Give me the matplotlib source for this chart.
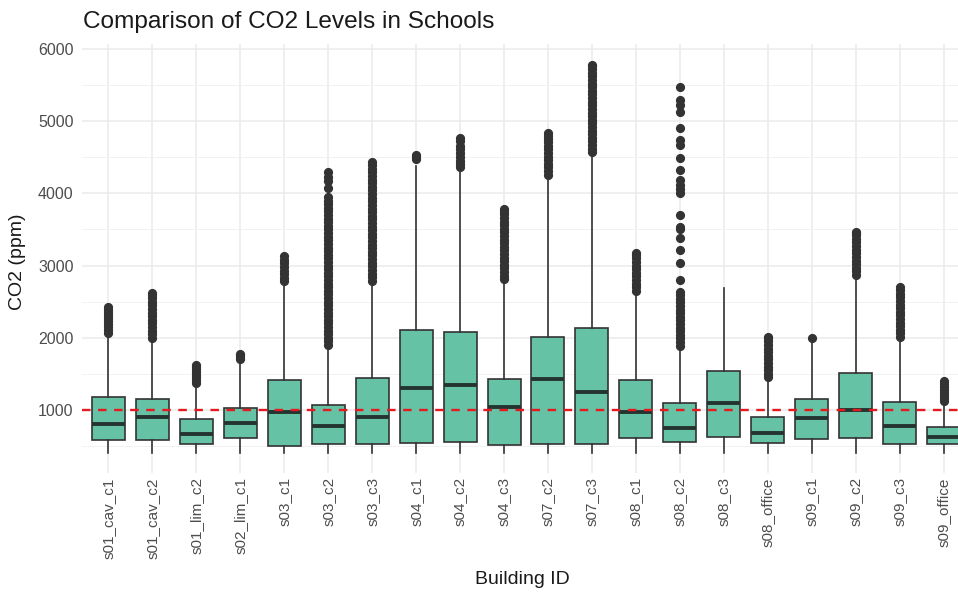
import matplotlib
matplotlib.use("Agg")
import matplotlib.pyplot as plt
from matplotlib.ticker import MultipleLocator

plt.rcParams['font.family'] = ['Liberation Sans', 'DejaVu Sans']

buildings = ["s01_cav_c1", "s01_cav_c2", "s01_lim_c2", "s02_lim_c1", "s03_c1", "s03_c2",
             "s03_c3", "s04_c1", "s04_c2", "s04_c3", "s07_c2", "s07_c3", "s08_c1", "s08_c2",
             "s08_c3", "s08_office", "s09_c1", "s09_c2", "s09_c3", "s09_office"]

q1 = [584, 580, 533, 617, 501, 525, 533, 539, 553, 520, 525, 525, 608, 561, 626, 539, 598, 608, 525, 525]
med = [806, 899, 672, 824, 976, 774, 907, 1305, 1350, 1037, 1429, 1249, 976, 755, 1097, 677, 889, 1000, 774, 626]
q3 = [1176, 1148, 875, 1032, 1411, 1069, 1439, 2112, 2076, 1434, 2016, 2140, 1420, 1093, 1544, 899, 1152, 1512, 1115, 760]
whis_lo = [400, 400, 400, 400, 400, 400, 400, 400, 400, 400, 400, 400, 400, 400, 400, 400, 400, 400, 400, 400]
whis_hi = [2040, 1980, 1340, 1640, 2760, 1870, 2770, 4380, 4300, 2790, 4230, 4540, 2620, 1880, 2690, 1420, 1940, 2840, 1990, 1100]

outliers = [
    [2070, 2110, 2150, 2190, 2230, 2270, 2310, 2350, 2390, 2430],
    [2000, 2050, 2100, 2150, 2200, 2250, 2300, 2350, 2400, 2450, 2500, 2550, 2590, 2620],
    [1375, 1410, 1450, 1490, 1530, 1570, 1600, 1625],
    [1700, 1730, 1755, 1775],
    [2780, 2830, 2880, 2930, 2980, 3030, 3080, 3130],
    [1900, 1950, 2000, 2050, 2100, 2150, 2200, 2250, 2300, 2350, 2400, 2450, 2500, 2550, 2600,
     2650, 2700, 2750, 2800, 2850, 2900, 2950, 3000, 3050, 3100, 3150, 3200, 3250, 3300, 3350,
     3400, 3450, 3500, 3550, 3600, 3650, 3700, 3750, 3800, 3850, 3900, 3950, 4080, 4170, 4230, 4300],
    [2790, 2840, 2890, 2940, 2990, 3040, 3090, 3140, 3190, 3240, 3290, 3340, 3390, 3440, 3490,
     3540, 3590, 3640, 3690, 3740, 3790, 3840, 3890, 3940, 3990, 4040, 4090, 4140, 4190, 4240,
     4290, 4340, 4390, 4440],
    [4480, 4505, 4530],
    [4360, 4400, 4450, 4500, 4560, 4610, 4660, 4720, 4770],
    [2810, 2860, 2910, 2960, 3010, 3060, 3110, 3160, 3210, 3260, 3310, 3360, 3410, 3460, 3510,
     3560, 3610, 3660, 3710, 3760, 3780],
    [4260, 4310, 4360, 4410, 4460, 4510, 4560, 4610, 4660, 4710, 4760, 4800, 4830],
    [4570, 4620, 4670, 4720, 4770, 4820, 4870, 4920, 4970, 5020, 5070, 5120, 5170, 5220, 5270,
     5320, 5370, 5420, 5470, 5520, 5570, 5620, 5670, 5720, 5760, 5780],
    [2650, 2700, 2750, 2800, 2850, 2900, 2950, 3000, 3050, 3100, 3140, 3170],
    [1890, 1940, 1990, 2040, 2090, 2140, 2190, 2240, 2290, 2340, 2390, 2440, 2490, 2540, 2590,
     2640, 2800, 3030, 3210, 3380, 3500, 3540, 3700, 4000, 4060, 4120, 4190, 4320, 4485, 4670,
     4740, 4900, 5130, 5220, 5290, 5475],
    [],
    [1450, 1500, 1550, 1600, 1650, 1700, 1750, 1800, 1850, 1900, 1950, 1990, 2010],
    [1995],
    [2870, 2920, 2970, 3020, 3070, 3120, 3170, 3220, 3270, 3320, 3370, 3420, 3450, 3470],
    [2010, 2060, 2110, 2160, 2210, 2260, 2310, 2360, 2410, 2460, 2510, 2560, 2610, 2660, 2700],
    [1120, 1160, 1200, 1240, 1280, 1320, 1360, 1400],
]

threshold = 1000
y_ticks = [1000, 2000, 3000, 4000, 5000, 6000]

W, H = 958, 596
fig = plt.figure(figsize=(W / 100, H / 100), dpi=100)
ax = fig.add_axes([82 / W, 1 - 473 / H, (970 - 82) / W, (473 - 44) / H])

stats = []
for i, name in enumerate(buildings):
    stats.append(dict(label=name, q1=q1[i], med=med[i], q3=q3[i],
                      whislo=whis_lo[i], whishi=whis_hi[i], fliers=outliers[i]))

ax.bxp(stats, positions=list(range(len(buildings))), widths=0.75, patch_artist=True,
       showcaps=False,
       boxprops=dict(facecolor='#66c2a5', edgecolor='#333333', linewidth=1.2),
       medianprops=dict(color='#243530', linewidth=2.8, solid_capstyle='butt'),
       whiskerprops=dict(color='#333333', linewidth=1.2),
       flierprops=dict(marker='o', markerfacecolor='#333333', markeredgecolor='#333333',
                       markersize=5.6, linestyle='none'),
       zorder=3)

ax.axhline(threshold, color='#e5191f', linewidth=1.7, linestyle=(0, (3.6, 3.2)), zorder=5)

ax.set_xlim(-0.6, len(buildings) - 1 + 0.6)
ax.set_ylim(127, 6069)
ax.set_yticks(y_ticks)
ax.yaxis.set_minor_locator(MultipleLocator(500))
ax.set_xticks(list(range(len(buildings))))
ax.set_xticklabels(buildings, rotation=90)

ax.grid(True, which='major', color='#ebebeb', linewidth=1.1, zorder=0)
ax.grid(True, which='minor', axis='y', color='#f2f2f2', linewidth=0.7, zorder=0)
ax.set_axisbelow(True)
for s in ax.spines.values():
    s.set_visible(False)
ax.tick_params(axis='both', which='both', length=0, labelcolor='#4d4d4d', labelsize=11.5)
ax.tick_params(axis='x', labelsize=11, pad=3)
ax.tick_params(axis='y', pad=6)

fig.text(83 / W, 1 - 22 / H, "Comparison of CO2 Levels in Schools", fontsize=17.6,
         ha='left', va='center', color='#1a1a1a')
fig.text(18 / W, 1 - 262 / H, "CO2 (ppm)", fontsize=14, rotation=90,
         ha='center', va='center', color='#1a1a1a')
fig.text(522 / W, 1 - 580 / H, "Building ID", fontsize=14,
         ha='center', va='center', color='#1a1a1a')

fig.savefig("out.png", dpi=100)
